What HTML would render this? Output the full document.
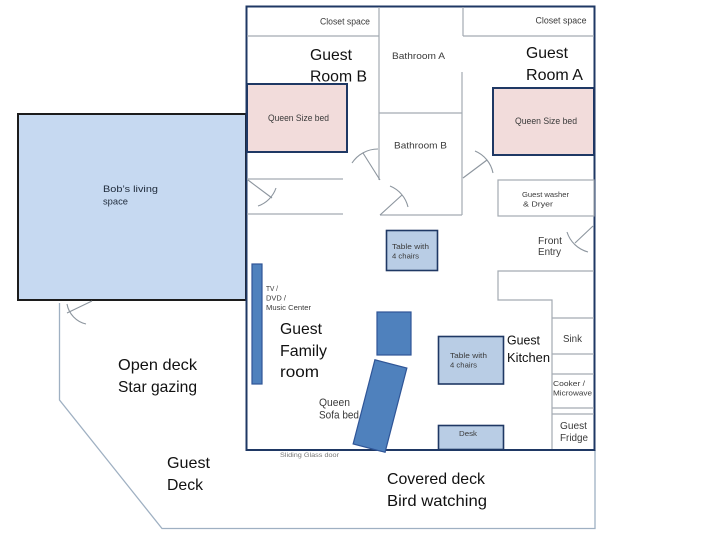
<!DOCTYPE html>
<html>
<head>
<meta charset="utf-8">
<style>
  html,body{margin:0;padding:0;background:#fff;}
  svg{display:block;}
  text{font-family:"Liberation Sans", Arial, sans-serif;}
</style>
</head>
<body>
<svg width="720" height="540" viewBox="0 0 720 540" xmlns="http://www.w3.org/2000/svg">
  <rect x="0" y="0" width="720" height="540" fill="#fff"/>

  <!-- Deck outline -->
  <polyline points="59.5,303 59.5,400 162,528.5 595,528.5 595,450" fill="none" stroke="#9fb0c2" stroke-width="1.3"/>

  <!-- Bob's living space -->
  <rect x="18" y="114" width="228" height="186" fill="#c6d9f1" stroke="#1c1c1c" stroke-width="2"/>

  <!-- House -->
  <rect x="246.5" y="6.5" width="348" height="443.5" fill="#ffffff" stroke="#1f3864" stroke-width="2"/>

  <!-- Interior walls -->
  <g stroke="#a3aab2" stroke-width="1.2" fill="none">
    <line x1="247" y1="36" x2="379" y2="36"/>
    <line x1="379" y1="7" x2="379" y2="180"/>
    <line x1="379" y1="113" x2="462" y2="113"/>
    <line x1="462" y1="72" x2="462" y2="215"/>
    <line x1="380" y1="215" x2="462" y2="215"/>
    <line x1="463" y1="7" x2="463" y2="36"/>
    <line x1="463" y1="36" x2="594" y2="36"/>
    <line x1="247" y1="179" x2="343" y2="179"/>
    <line x1="247" y1="214" x2="343" y2="214"/>
    <rect x="498" y="180" width="96" height="36"/>
    <polyline points="594,271 498,271 498,300 552,300 552,449"/>
    <line x1="552" y1="318" x2="594" y2="318"/>
    <line x1="552" y1="354" x2="594" y2="354"/>
    <line x1="552" y1="374" x2="594" y2="374"/>
    <line x1="552" y1="408" x2="594" y2="408"/>
    <line x1="552" y1="414" x2="594" y2="414"/>
  </g>

  <!-- Doors -->
  <g stroke="#8c959e" stroke-width="1.1" fill="none">
    <!-- bathroom A door (top-left of bath B) -->
    <line x1="380" y1="180" x2="363" y2="153"/>
    <path d="M352,163 A31,31 0 0 1 378,149"/>
    <!-- lower door -->
    <line x1="380" y1="215" x2="402" y2="195"/>
    <path d="M390,186 A30,30 0 0 1 408,207"/>
    <!-- right bathroom door -->
    <line x1="463" y1="178" x2="487" y2="160"/>
    <path d="M475,151 A30,30 0 0 1 493,173"/>
    <!-- family room left door -->
    <line x1="248" y1="180" x2="272" y2="198"/>
    <path d="M258,206 A29,29 0 0 0 276,188"/>
    <!-- front entry -->
    <line x1="593" y1="226" x2="575" y2="243"/>
    <path d="M567,232 A30,30 0 0 0 588,252"/>
    <!-- Bob's door -->
    <line x1="92" y1="301" x2="67" y2="313"/>
    <path d="M67,304 A25,25 0 0 0 86,324"/>
  </g>

  <!-- Beds -->
  <rect x="247" y="84" width="100" height="68" fill="#f2dcdb" stroke="#1f3864" stroke-width="2"/>
  <rect x="493" y="88" width="101" height="67" fill="#f2dcdb" stroke="#1f3864" stroke-width="2"/>

  <!-- Tables / desk -->
  <rect x="386.5" y="230.5" width="51" height="40" fill="#b9cde5" stroke="#1f3864" stroke-width="1.6"/>
  <rect x="438.5" y="336.5" width="65" height="47.5" fill="#b9cde5" stroke="#1f3864" stroke-width="1.6"/>
  <rect x="438.5" y="425.5" width="65" height="24" fill="#b9cde5" stroke="#1f3864" stroke-width="1.6"/>

  <!-- TV bar, square, sofa -->
  <rect x="252" y="264" width="10" height="120" fill="#4f81bd" stroke="#2f5597" stroke-width="1.2"/>
  <rect x="377" y="312" width="34" height="43" fill="#4f81bd" stroke="#2f5597" stroke-width="1.2"/>
  <rect x="-16.5" y="-43.5" width="33" height="87" fill="#4f81bd" stroke="#2f5597" stroke-width="1.2" transform="translate(380,406) rotate(14.5)"/>

  <!-- Labels -->
  <g fill="#3a3a3a" font-size="9">
    <text x="320" y="24.5" textLength="50" lengthAdjust="spacingAndGlyphs">Closet space</text>
    <text x="535.5" y="23.5" textLength="51" lengthAdjust="spacingAndGlyphs">Closet space</text>
    <text x="392" y="59" font-size="9.5" textLength="53" lengthAdjust="spacingAndGlyphs">Bathroom A</text>
    <text x="394" y="148.5" font-size="9.5" textLength="53" lengthAdjust="spacingAndGlyphs">Bathroom B</text>
    <text x="268" y="121" textLength="61" lengthAdjust="spacingAndGlyphs">Queen Size bed</text>
    <text x="515" y="124" textLength="62" lengthAdjust="spacingAndGlyphs">Queen Size bed</text>
    <text x="103" y="192" fill="#1e2a3a" font-size="9.5" textLength="55" lengthAdjust="spacingAndGlyphs">Bob’s living</text>
    <text x="103" y="204.5" fill="#1e2a3a" font-size="9.5" textLength="25" lengthAdjust="spacingAndGlyphs">space</text>
    <text x="522" y="197" font-size="7.5" textLength="47" lengthAdjust="spacingAndGlyphs">Guest washer</text>
    <text x="523" y="206.5" font-size="7.5" textLength="30" lengthAdjust="spacingAndGlyphs">&amp; Dryer</text>
    <text x="538" y="244" font-size="10.5" textLength="24" lengthAdjust="spacingAndGlyphs">Front</text>
    <text x="538" y="255" font-size="10.5" textLength="23" lengthAdjust="spacingAndGlyphs">Entry</text>
    <text x="392" y="249" font-size="7.5" textLength="37" lengthAdjust="spacingAndGlyphs">Table with</text>
    <text x="392" y="258.5" font-size="7.5" textLength="27" lengthAdjust="spacingAndGlyphs">4 chairs</text>
    <text x="450" y="358" font-size="7.5" textLength="37" lengthAdjust="spacingAndGlyphs">Table with</text>
    <text x="450" y="367.5" font-size="7.5" textLength="27" lengthAdjust="spacingAndGlyphs">4 chairs</text>
    <text x="459" y="436" font-size="7" textLength="18" lengthAdjust="spacingAndGlyphs">Desk</text>
    <text x="563" y="342" font-size="10" textLength="19" lengthAdjust="spacingAndGlyphs">Sink</text>
    <text x="553" y="386" font-size="7.5" textLength="32" lengthAdjust="spacingAndGlyphs">Cooker /</text>
    <text x="553" y="395.5" font-size="7.5" textLength="39" lengthAdjust="spacingAndGlyphs">Microwave</text>
    <text x="560" y="429" font-size="10.5" textLength="27" lengthAdjust="spacingAndGlyphs">Guest</text>
    <text x="560" y="441" font-size="10.5" textLength="28" lengthAdjust="spacingAndGlyphs">Fridge</text>
    <text x="266" y="291" font-size="7.5" textLength="12" lengthAdjust="spacingAndGlyphs">TV /</text>
    <text x="266" y="300.5" font-size="7.5" textLength="20" lengthAdjust="spacingAndGlyphs">DVD /</text>
    <text x="266" y="310" font-size="7.5" textLength="45" lengthAdjust="spacingAndGlyphs">Music Center</text>
    <text x="319" y="406" font-size="11" textLength="31" lengthAdjust="spacingAndGlyphs">Queen</text>
    <text x="319" y="418.5" font-size="11" textLength="40" lengthAdjust="spacingAndGlyphs">Sofa bed</text>
    <text x="280" y="457" font-size="6.5" fill="#777" textLength="59" lengthAdjust="spacingAndGlyphs">Sliding Glass door</text>
  </g>

  <g fill="#111" font-size="16">
    <text x="310" y="60" textLength="42" lengthAdjust="spacingAndGlyphs">Guest</text>
    <text x="310" y="81.5" textLength="57" lengthAdjust="spacingAndGlyphs">Room B</text>
    <text x="526" y="58" textLength="42" lengthAdjust="spacingAndGlyphs">Guest</text>
    <text x="526" y="80" textLength="57" lengthAdjust="spacingAndGlyphs">Room A</text>
    <text x="280" y="334" textLength="42" lengthAdjust="spacingAndGlyphs">Guest</text>
    <text x="280" y="356" textLength="47" lengthAdjust="spacingAndGlyphs">Family</text>
    <text x="280" y="377" textLength="39" lengthAdjust="spacingAndGlyphs">room</text>
    <text x="507" y="344.5" font-size="13" textLength="33" lengthAdjust="spacingAndGlyphs">Guest</text>
    <text x="507" y="362" font-size="13" textLength="43" lengthAdjust="spacingAndGlyphs">Kitchen</text>
    <text x="118" y="370" textLength="79" lengthAdjust="spacingAndGlyphs">Open deck</text>
    <text x="118" y="392" textLength="79" lengthAdjust="spacingAndGlyphs">Star gazing</text>
    <text x="167" y="468" textLength="43" lengthAdjust="spacingAndGlyphs">Guest</text>
    <text x="167" y="490" textLength="36" lengthAdjust="spacingAndGlyphs">Deck</text>
    <text x="387" y="484" textLength="98" lengthAdjust="spacingAndGlyphs">Covered deck</text>
    <text x="387" y="506" textLength="100" lengthAdjust="spacingAndGlyphs">Bird watching</text>
  </g>
</svg>
</body>
</html>
